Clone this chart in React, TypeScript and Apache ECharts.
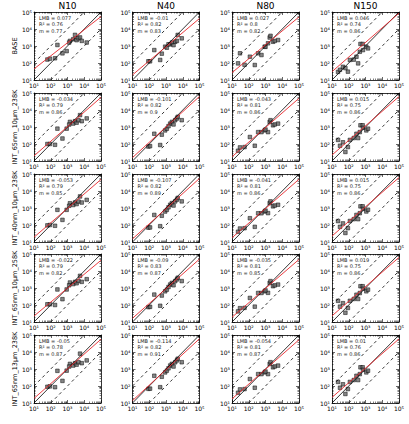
import React, { useEffect, useRef } from 'react';
import * as echarts from 'echarts';

const COLUMNS = ['N10', 'N40', 'N80', 'N150'];
const ROWS = ['BASE', 'INT_65nm_10μm_238K', 'INT_40nm_10μm_238K', 'INT_65nm_10μm_258K', 'INT_65nm_13μm_238K'];
const SUPERSCRIPTS = ['⁰', '¹', '²', '³', '⁴', '⁵'];

// observations (x) per column
const OBS_N10 = [63, 89, 180, 250, 500, 890, 1400, 2200, 2800, 3500, 4500, 5600, 7100, 14000, 1260];
const OBS_N40 = [89, 112, 200, 450, 560, 890, 1120, 1780, 2240, 2820, 3550, 4470, 5000, 8700, 1410];
const OBS_N80 = [23, 30, 56, 117, 229, 363, 575, 891, 1413, 1778, 1995, 2818, 3548, 5623, 1000];
const OBS_N150 = [23, 30, 45, 89, 117, 288, 363, 457, 501, 676, 708, 1122, 1413, 200, 63];

// model values (y), one array per row
const MOD_N10 = [
  [160, 180, 190, 1150, 370, 500, 2000, 2500, 4500, 2200, 2800, 3200, 2000, 1600, 1600],
  [100, 100, 90, 800, 210, 800, 2000, 1600, 2200, 1800, 2500, 5000, 2200, 3200, 1400],
  [95, 100, 90, 780, 200, 780, 1900, 1500, 2100, 1700, 2400, 4800, 2100, 3000, 1350],
  [110, 110, 100, 820, 220, 820, 2100, 1700, 2300, 1900, 2600, 5200, 2300, 3300, 1450],
  [90, 95, 85, 780, 200, 800, 2000, 1600, 2200, 1800, 2500, 8000, 2200, 3200, 1400],
];
const MOD_N40 = [
  [126, 126, 575, 151, 355, 912, 794, 1259, 1585, 1122, 1778, 1995, 4467, 2818, 1259],
  [71, 75, 400, 87, 355, 630, 794, 1585, 1995, 1413, 2512, 3162, 3981, 2512, 1122],
  [70, 72, 390, 85, 350, 620, 780, 1550, 1950, 1400, 2450, 3100, 3900, 2450, 1100],
  [75, 78, 410, 90, 360, 640, 800, 1600, 2000, 1450, 2550, 3200, 4000, 2550, 1150],
  [68, 70, 400, 85, 350, 630, 800, 1600, 2000, 1400, 2500, 3200, 4000, 2500, 1100],
];
const MOD_N80 = [
  [95, 372, 79, 234, 76, 372, 295, 912, 1445, 3162, 3981, 1778, 1995, 2239, 891],
  [40, 63, 66, 257, 79, 501, 501, 631, 501, 1995, 2512, 1259, 1413, 1585, 708],
  [40, 62, 65, 250, 78, 490, 490, 620, 500, 1950, 2450, 1250, 1400, 1550, 700],
  [42, 65, 68, 260, 80, 510, 510, 640, 520, 2000, 2550, 1280, 1430, 1600, 720],
  [40, 63, 66, 257, 79, 501, 501, 631, 501, 1995, 2512, 1259, 1413, 1585, 708],
];
const MOD_N150 = [
  [30, 40, 60, 31, 151, 234, 95, 457, 1318, 1318, 575, 912, 724, 158, 50],
  [174, 79, 126, 66, 174, 398, 224, 501, 1259, 1259, 891, 631, 794, 224, 34],
  [170, 78, 124, 65, 172, 390, 220, 495, 1250, 1250, 880, 625, 790, 220, 34],
  [176, 80, 128, 67, 176, 400, 226, 505, 1270, 1270, 900, 640, 800, 226, 35],
  [174, 79, 126, 66, 174, 398, 224, 501, 1259, 1259, 891, 631, 794, 224, 34],
];

const OBS = [OBS_N10, OBS_N40, OBS_N80, OBS_N150];
const MODEL = [MOD_N10, MOD_N40, MOD_N80, MOD_N150];

// statistics per row (columns N10, N40, N80, N150)
const LMB = [
  ['0.077', '-0.01', '0.027', '0.046'],
  ['-0.034', '-0.101', '-0.043', '0.015'],
  ['-0.053', '-0.107', '-0.041', '0.015'],
  ['-0.022', '-0.09', '-0.035', '0.019'],
  ['-0.05', '-0.114', '-0.054', '0.01'],
];
const R2 = [
  ['0.76', '0.82', '0.8', '0.74'],
  ['0.79', '0.82', '0.81', '0.75'],
  ['0.79', '0.82', '0.81', '0.75'],
  ['0.79', '0.83', '0.81', '0.75'],
  ['0.78', '0.82', '0.81', '0.76'],
];
const SLOPE = [
  [0.77, 0.83, 0.82, 0.86],
  [0.86, 0.9, 0.86, 0.86],
  [0.85, 0.89, 0.86, 0.86],
  [0.82, 0.87, 0.85, 0.86],
  [0.87, 0.91, 0.87, 0.86],
];
// log10 of fitted line at x = 10
const INTERCEPT = [
  [1.65, 1.3, 1.43, 1.49],
  [1.3, 1.2, 1.25, 1.35],
  [1.28, 1.18, 1.25, 1.35],
  [1.35, 1.22, 1.28, 1.36],
  [1.27, 1.14, 1.24, 1.33],
];

const AX_MIN = 10;
const AX_MAX = 100000;

const GRID_LEFT = [34, 132.5, 232, 332];
const GRID_TOP = [12, 93, 174, 254, 335];
const W = 67;
const H = 68;
const FONT = 'DejaVu Sans';

function makeAxis(pos: string, k: number, labels: boolean) {
  return {
    gridIndex: k,
    type: 'log',
    logBase: 10,
    min: AX_MIN,
    max: AX_MAX,
    position: pos,
    axisLine: { show: true, onZero: false, lineStyle: { color: '#000', width: 0.8 } },
    axisTick: { show: true, inside: true, length: 3, lineStyle: { color: '#000', width: 0.6 } },
    minorTick: { show: true, splitNumber: 9, length: 1.5, lineStyle: { color: '#000', width: 0.5 } },
    splitLine: { show: false },
    minorSplitLine: { show: false },
    axisLabel: {
      show: labels,
      margin: 2,
      interval: 0,
      fontSize: 6,
      fontFamily: FONT,
      color: '#000',
      formatter: (v: number) => '10' + SUPERSCRIPTS[Math.round(Math.log10(v))],
    },
  };
}

export default function App() {
  const ref = useRef<HTMLDivElement>(null);
  useEffect(() => {
    if (!ref.current) return;
    const chart = echarts.init(ref.current, null, { renderer: 'svg' });
    const grid: any[] = [];
    const xAxis: any[] = [];
    const yAxis: any[] = [];
    const series: any[] = [];
    const graphic: any[] = [];

    COLUMNS.forEach((name, c) => {
      graphic.push({
        type: 'text',
        x: GRID_LEFT[c] + W / 2,
        y: 6,
        style: { text: name, fontSize: 9, fontFamily: FONT, fill: '#000', align: 'center', verticalAlign: 'middle' },
      });
    });

    ROWS.forEach((rowName, r) => {
      graphic.push({
        type: 'text',
        x: 15,
        y: GRID_TOP[r] + H / 2,
        rotation: Math.PI / 2,
        style: { text: rowName, fontSize: 6.5, fontFamily: FONT, fill: '#000', align: 'center', verticalAlign: 'middle' },
      });
      COLUMNS.forEach((_, c) => {
        const k = r * 4 + c;
        const left = GRID_LEFT[c];
        const top = GRID_TOP[r];
        grid.push({ left, top, width: W, height: H, show: false });
        xAxis.push(makeAxis('bottom', k, true));
        xAxis.push(makeAxis('top', k, false));
        yAxis.push(makeAxis('left', k, true));
        yAxis.push(makeAxis('right', k, false));
        const xi = 2 * k;
        const obs = OBS[c];
        const mod = MODEL[c][r];
        series.push({
          type: 'scatter',
          xAxisIndex: xi,
          yAxisIndex: xi,
          symbol: 'rect',
          symbolSize: 3.6,
          itemStyle: { color: '#666', borderColor: '#000', borderWidth: 0.6 },
          data: obs.map((x, i) => [x, mod[i]]),
        });
        const lineBase = { type: 'line', xAxisIndex: xi, yAxisIndex: xi, showSymbol: false, symbol: 'none', silent: true };
        series.push({ ...lineBase, data: [[AX_MIN, AX_MIN], [AX_MAX, AX_MAX]], lineStyle: { color: '#000', width: 0.8 } });
        series.push({ ...lineBase, data: [[AX_MIN, AX_MIN * 10], [AX_MAX / 10, AX_MAX]], lineStyle: { color: '#000', width: 0.8, type: [3, 3] } });
        series.push({ ...lineBase, data: [[AX_MIN * 10, AX_MIN], [AX_MAX, AX_MAX / 10]], lineStyle: { color: '#000', width: 0.8, type: [3, 3] } });
        const a = INTERCEPT[r][c];
        const m = SLOPE[r][c];
        series.push({
          ...lineBase,
          data: [[AX_MIN, Math.pow(10, a)], [AX_MAX, Math.pow(10, a + 4 * m)]],
          lineStyle: { color: '#e8262b', width: 0.9 },
        });
        graphic.push({
          type: 'text',
          x: left + 5,
          y: top + 3,
          style: {
            text: `LMB = ${LMB[r][c]}\nR² = ${R2[r][c]}\nm = ${m}`,
            fontSize: 5,
            lineHeight: 6.3,
            fontFamily: FONT,
            fill: '#222',
            align: 'left',
            verticalAlign: 'top',
          },
        });
      });
    });

    chart.setOption({
      animation: false,
      backgroundColor: '#fff',
      grid,
      xAxis,
      yAxis,
      series,
      graphic,
    });
    return () => chart.dispose();
  }, []);
  return <div ref={ref} style={{ position: 'fixed', left: 0, top: 0, width: 409, height: 424 }} />;
}
